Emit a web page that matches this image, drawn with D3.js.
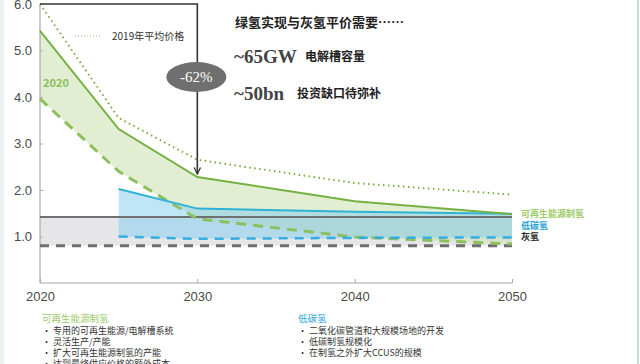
<!DOCTYPE html>
<html>
<head>
<meta charset="utf-8">
<script src="https://cdn.jsdelivr.net/npm/d3@7"></script>
<style>
  body { margin: 0; background: #fff; }
  svg { display: block; font-family: "Noto Sans CJK SC", "Noto Sans", sans-serif; }
</style>
</head>
<body>
<svg width="640" height="364"></svg>
<script>
var svg = d3.select('svg');

// years on the x axis
var years = [2020, 2030, 2040, 2050];
var yTicks = [1, 2, 3, 4, 5, 6];

// 2019 average price (dotted)
var avg2019 = [[2020, 6.0], [2025, 3.55], [2030, 2.65], [2040, 2.15], [2050, 1.9]];
// renewable hydrogen, upper (solid) and lower (dashed)
var greenHigh = [[2020, 5.42], [2025, 3.31], [2030, 2.28], [2040, 1.76], [2050, 1.48]];
var greenLow = [[2020, 3.96], [2025, 2.4], [2030, 1.38], [2040, 0.99], [2050, 0.84]];
// low carbon hydrogen
var blueHigh = [[2025, 2.02], [2030, 1.6], [2040, 1.53], [2050, 1.49]];
var blueLow = [[2025, 1.0], [2030, 0.95], [2040, 0.97], [2050, 0.98]];
// grey hydrogen
var greyHigh = [[2020, 1.42], [2050, 1.42]];
var greyLow = [[2020, 0.8], [2050, 0.8]];

var x = d3.scaleLinear().domain([2020, 2050]).range([40, 512]);
var y = d3.scaleLinear().domain([0, 6]).range([283, 4]);

var line = d3.line().x(function(d){ return x(d[0]); }).y(function(d){ return y(d[1]); });

//band between two series with the same years
function band(hi, lo){
    return d3.area()
        .x(function(d){ return x(d[0]); })
        .y0(function(d, i){ return y(lo[i][1]); })
        .y1(function(d){ return y(d[1]); })(hi);
}

// page frame
svg.append('rect').attr('x', 0).attr('y', 0).attr('width', 4).attr('height', 364).attr('fill', '#edf2f4');
svg.append('rect').attr('x', 637).attr('y', 0).attr('width', 2).attr('height', 364).attr('fill', '#c9d9df');

// fills
svg.append('path').attr('d', band(greyHigh, greyLow)).attr('fill', '#e6e6e8');
svg.append('path').attr('d', band(greenHigh, greenLow)).attr('fill', '#cfe3b4').attr('opacity', 0.6);
svg.append('path').attr('d', band(blueHigh, blueLow)).attr('fill', '#7fcbef').attr('opacity', 0.5);

// axes
var yAxis = d3.axisLeft(y).tickValues(yTicks).tickFormat(d3.format('.1f')).tickSize(-3).tickPadding(8);
var gy = svg.append('g').attr('transform', 'translate(40,0)').call(yAxis);
gy.select('.domain').attr('stroke', '#9a9a9a').attr('d', 'M0,' + y(6) + 'V283');
gy.selectAll('.tick line').attr('stroke', '#aaa');
gy.selectAll('text').attr('fill', '#4a4a4a').style('font-size', '13px').style('font-family', 'Liberation Sans, Arial, sans-serif');

var xAxis = d3.axisBottom(x).tickValues(years).tickFormat(d3.format('d')).tickSize(-4).tickPadding(9);
var gx = svg.append('g').attr('transform', 'translate(0,283)').call(xAxis);
gx.select('.domain').attr('stroke', '#a8a8a8').attr('d', 'M40,0H512');
gx.selectAll('.tick line').attr('stroke', '#aaa');
gx.selectAll('text').attr('fill', '#4a4a4a').style('font-size', '13px').style('font-family', 'Liberation Sans, Arial, sans-serif');

// lines
svg.append('path').attr('d', line(greyLow)).attr('fill', 'none').attr('stroke', '#6e6e6e').attr('stroke-width', 3).attr('stroke-dasharray', '9,7');
svg.append('path').attr('d', line(greyHigh)).attr('fill', 'none').attr('stroke', '#707070').attr('stroke-width', 2);
svg.append('path').attr('d', line(greenLow)).attr('fill', 'none').attr('stroke', '#8dbf5e').attr('stroke-width', 3).attr('stroke-dasharray', '10,7');
svg.append('path').attr('d', line(blueLow)).attr('fill', 'none').attr('stroke', '#34aee0').attr('stroke-width', 2.5).attr('stroke-dasharray', '9,7');
svg.append('path').attr('d', line(blueHigh)).attr('fill', 'none').attr('stroke', '#2eb2d6').attr('stroke-width', 2);
svg.append('path').attr('d', line(greenHigh)).attr('fill', 'none').attr('stroke', '#76b043').attr('stroke-width', 2);
svg.append('path').attr('d', line(avg2019)).attr('fill', 'none').attr('stroke', '#7aaa44').attr('stroke-width', 2).attr('stroke-dasharray', '1.5,3.5');

// -62% arrow
svg.append('defs').append('marker').attr('id', 'arr').attr('viewBox', '0 0 10 10')
    .attr('refX', 9).attr('refY', 5).attr('markerWidth', 5).attr('markerHeight', 5).attr('orient', 'auto')
    .append('path').attr('d', 'M1,1L9,5L1,9').attr('fill', 'none').attr('stroke', '#333').attr('stroke-width', 1.6);
svg.append('path')
    .attr('d', 'M' + x(2020) + ',' + y(6) + 'H' + x(2030) + 'V' + (y(greenHigh[2][1]) - 3))
    .attr('fill', 'none').attr('stroke', '#333').attr('stroke-width', 1.6).attr('marker-end', 'url(#arr)');
svg.append('ellipse').attr('cx', x(2030) - 1).attr('cy', 77).attr('rx', 30).attr('ry', 15).attr('fill', '#6f6f6f');
svg.append('text').attr('x', x(2030) - 1).attr('y', 82).attr('text-anchor', 'middle').attr('fill', '#fff')
    .style('font-family', 'Liberation Serif, serif').style('font-size', '15px').text('-62%');

// legend for dotted line
svg.append('line').attr('x1', 75).attr('x2', 102).attr('y1', 36).attr('y2', 36)
    .attr('stroke', '#b8d49a').attr('stroke-width', 1.5).attr('stroke-dasharray', '1,2');
svg.append('text').attr('x', 112).attr('y', 40).attr('fill', '#333').style('font-size', '10px').text('2019年平均价格');
svg.append('text').attr('x', 43).attr('y', 87).attr('fill', '#8cc05a').style('font-size', '11px').style('font-weight', 'bold').text('2020');

// headline text
svg.append('text').attr('x', 235).attr('y', 27).attr('fill', '#222').style('font-size', '13px').style('font-weight', 'bold').text('绿氢实现与灰氢平价需要……');
svg.append('text').attr('x', 234).attr('y', 63).attr('fill', '#444').style('font-family', 'Liberation Serif, serif').style('font-size', '19px').style('font-weight', 'bold').text('~65GW');
svg.append('text').attr('x', 305).attr('y', 61).attr('fill', '#222').style('font-size', '12px').style('font-weight', 'bold').text('电解槽容量');
svg.append('text').attr('x', 234).attr('y', 100).attr('fill', '#444').style('font-family', 'Liberation Serif, serif').style('font-size', '19px').style('font-weight', 'bold').text('~50bn');
svg.append('text').attr('x', 297).attr('y', 98).attr('fill', '#222').style('font-size', '12px').style('font-weight', 'bold').text('投资缺口待弥补');

// series labels at right
var endLabels = [['可再生能源制氢', '#9ccb68', 217], ['低碳氢', '#2a9fd6', 229], ['灰氢', '#222', 240]];
svg.selectAll('.endLabel').data(endLabels).enter().append('text')
    .attr('x', 521).attr('y', function(d){ return d[2]; }).attr('fill', function(d){ return d[1]; })
    .style('font-size', '9px').style('font-weight', 'bold').text(function(d){ return d[0]; });

// notes below the chart
var notesGreen = ['专用的可再生能源/电解槽系统', '灵活生产/产能', '扩大可再生能源制氢的产能', '达到最终供应价格的额外成本'];
var notesBlue = ['二氧化碳管道和大规模场地的开发', '低碳制氢规模化', '在制氢之外扩大CCUS的规模'];

function notes(x0, title, color, items){
    svg.append('text').attr('x', x0).attr('y', 322).attr('fill', color).style('font-size', '9.5px').text(title);
    svg.selectAll(null).data(items).enter().append('text')
        .attr('x', x0).attr('y', function(d, i){ return 334 + i * 11; })
        .attr('fill', '#333').style('font-size', '9px')
        .text(function(d){ return '• ' + d; });
}
notes(42, '可再生能源制氢', '#9ccb68', notesGreen);
notes(298, '低碳氢', '#2a9fd6', notesBlue);
</script>
</body>
</html>
